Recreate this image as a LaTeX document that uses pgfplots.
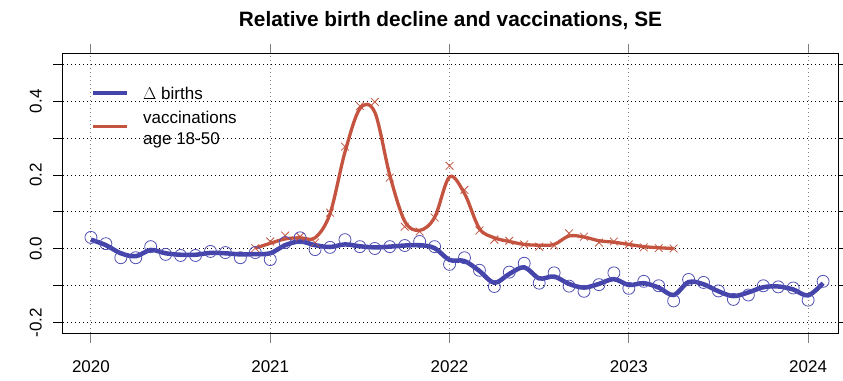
\documentclass[border=0pt]{standalone}
\usepackage{fontspec}
\setmainfont{Liberation Sans}
\usepackage{pgfplots}
\usepackage{pgfplotstable}
\pgfplotsset{compat=1.18}
\definecolor{bblue}{RGB}{68,68,170}
\definecolor{cblue}{RGB}{80,80,180}
\definecolor{rred}{RGB}{196,84,64}

% monthly index m: 0 = Jan 2020
\pgfplotstableread{
m b
0 0.031
1 0.014
2 -0.024
3 -0.024
4 0.006
5 -0.015
6 -0.018
7 -0.018
8 -0.007
9 -0.010
10 -0.024
11 -0.010
12 -0.029
13 0.017
14 0.030
15 -0.002
16 0.004
17 0.025
18 0.006
19 0.001
20 0.006
21 0.009
22 0.020
23 0.006
24 -0.042
25 -0.024
26 -0.058
27 -0.102
28 -0.063
29 -0.039
30 -0.093
31 -0.065
32 -0.101
33 -0.115
34 -0.097
35 -0.065
36 -0.107
37 -0.088
38 -0.100
39 -0.141
40 -0.083
41 -0.091
42 -0.114
43 -0.137
44 -0.125
45 -0.100
46 -0.103
47 -0.106
48 -0.139
49 -0.088
}\births

\pgfplotstableread{
m s
0 0.025
1 0.010
2 -0.012
3 -0.020
4 -0.003
5 -0.012
6 -0.016
7 -0.016
8 -0.011
9 -0.012
10 -0.015
11 -0.014
12 -0.012
13 0.010
14 0.020
15 0.010
16 0.005
17 0.012
18 0.007
19 0.004
20 0.006
21 0.009
22 0.010
23 0.002
24 -0.030
25 -0.033
26 -0.060
27 -0.092
28 -0.068
29 -0.050
30 -0.080
31 -0.075
32 -0.095
33 -0.105
34 -0.095
35 -0.082
36 -0.098
37 -0.093
38 -0.105
39 -0.125
40 -0.090
41 -0.096
42 -0.115
43 -0.128
44 -0.118
45 -0.104
46 -0.102
47 -0.110
48 -0.126
49 -0.093
}\birthsS

\pgfplotstableread{
m v
11 0.002
12 0.020
13 0.036
14 0.033
15 0.017
16 0.098
17 0.277
18 0.387
19 0.398
20 0.193
21 0.060
22 0.047
23 0.085
24 0.225
25 0.160
26 0.050
27 0.025
28 0.022
29 0.012
30 0.006
31 0.009
32 0.042
33 0.033
34 0.017
35 0.020
36 0.012
37 0.004
38 0.002
39 0.001
}\vacc

\pgfplotstableread{
m s
11 0.002
12 0.015
13 0.027
14 0.030
15 0.030
16 0.095
17 0.262
18 0.380
19 0.370
20 0.200
21 0.075
22 0.050
23 0.085
24 0.195
25 0.150
26 0.055
27 0.030
28 0.020
29 0.012
30 0.010
31 0.012
32 0.035
33 0.032
34 0.022
35 0.018
36 0.012
37 0.006
38 0.003
39 0.001
}\vaccS

\begin{document}
\fontsize{17bp}{20bp}\selectfont
\begin{tikzpicture}
\useasboundingbox (0,0) rectangle (843bp,381bp);
\begin{axis}[
  at={(63bp,48bp)}, anchor=south west,
  scale only axis, width=775bp, height=279bp,
  xmin=-1.87, xmax=50, ymin=-0.228, ymax=0.528,
  xtick={0,12,24,36,48}, xticklabels={2020,2021,2022,2023,2024},
  ytick={-0.2,-0.1,0,0.1,0.2,0.3,0.4,0.5},
  yticklabels={-0.2,,0.0,,0.2,,0.4,},
  tick align=outside, major tick length=10bp,
  xtick style={gray, line width=1bp},
  ytick style={black, line width=1bp},
  axis line style={line width=1bp},
  xmajorgrids, ymajorgrids,
  x grid style={gray, line width=1bp, dash pattern=on 1bp off 3bp},
  y grid style={black, line width=1bp, dash pattern=on 1bp off 3bp},
  tick label style={font=\fontsize{17bp}{20bp}\selectfont},
  yticklabel style={xshift=-11bp, rotate=90, anchor=south, inner sep=0pt},
  xticklabel style={anchor=north, inner sep=0pt, yshift=-17bp},
  clip=false,
]
\addplot[rred, line width=3.3bp, smooth, tension=0.55] table[x=m,y=s]{\vaccS};
\addplot[only marks, mark=x, mark size=5.5bp, rred, mark options={line width=0.8bp}] table[x=m,y=v]{\vacc};
\addplot[bblue, line width=4.5bp, smooth, tension=0.55] table[x=m,y=s]{\birthsS};
\addplot[only marks, mark=o, mark size=6bp, cblue, mark options={line width=0.8bp}] table[x=m,y=b]{\births};
\end{axis}
\node[font=\fontsize{20.8bp}{24bp}\selectfont\bfseries, anchor=base] at (450.5bp,354bp) {Relative birth decline and vaccinations, SE};
\draw[bblue, line width=4bp] (93bp,288bp) -- (127bp,288bp);
\draw[rred, line width=3bp] (93bp,254bp) -- (127bp,254bp);
\node[anchor=base west, inner sep=0pt] at (143bp,281bp) {$\Delta$ births};
\node[anchor=base west, inner sep=0pt] at (143bp,257bp) {vaccinations};
\node[anchor=base west, inner sep=0pt] at (143bp,236bp) {age 18-50};
\end{tikzpicture}
\end{document}
